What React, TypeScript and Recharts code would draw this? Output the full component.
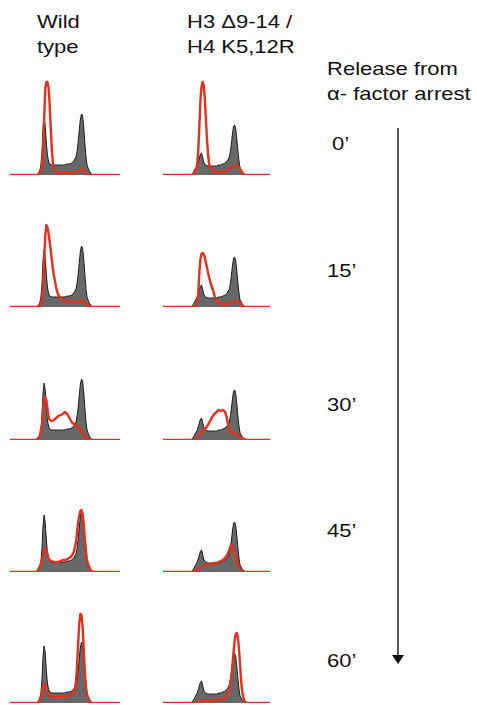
import { ComposedChart, Area, Line, XAxis, YAxis } from "recharts";

// DNA content histograms (channel, cell count)
type Pt = [number, number];

const wtAsync: Pt[] = [
  [24, 0], [25, 1], [26, 2], [27, 4], [28, 9], [29, 22], [30, 46], [31, 57], [32, 50], [33, 33], [34, 20],
  [35, 14], [36, 11], [38, 10], [40, 10], [42, 10], [44, 10], [46, 10], [48, 10], [50, 10], [52, 11],
  [54, 11], [56, 12], [58, 14], [60, 18], [61, 24], [62, 33], [63, 45], [64, 56], [65, 61], [66, 59],
  [67, 48], [68, 33], [69, 19], [70, 10], [72, 4], [74, 1], [76, 0],
];
const mutAsync: Pt[] = [
  [26, 0], [28, 2], [30, 6], [32, 10], [34, 17], [35, 21], [36, 22], [37, 18], [38, 13], [39, 11],
  [40, 10], [42, 9], [44, 9], [46, 9], [48, 9], [50, 9], [52, 10], [54, 10], [56, 11], [58, 12],
  [60, 14], [62, 18], [63, 24], [64, 32], [65, 42], [66, 49], [67, 50], [68, 46], [69, 36], [70, 24],
  [71, 14], [72, 7], [74, 3], [76, 1], [78, 0],
];

const wt0: Pt[] = [
  [25, 0], [27, 2], [29, 8], [30, 25], [31, 55], [32, 85], [33, 93], [34, 93], [35, 88], [36, 72],
  [37, 48], [38, 26], [39, 12], [40, 6], [41, 4], [42, 3], [46, 2], [50, 2], [54, 2], [58, 2],
  [60, 3], [62, 4], [64, 5], [66, 6], [67, 5], [68, 3], [70, 1], [72, 0],
];
const wt15: Pt[] = [
  [26, 0], [28, 3], [29, 8], [30, 20], [31, 45], [32, 70], [33, 82], [34, 80], [35, 74], [36, 66],
  [37, 57], [38, 47], [39, 38], [40, 31], [41, 25], [42, 19], [43, 15], [44, 12], [46, 9], [48, 7],
  [50, 6], [54, 5], [58, 5], [62, 5], [64, 6], [66, 6], [68, 4], [70, 2], [72, 0],
];
const wt30: Pt[] = [
  [24, 0], [27, 4], [29, 15], [30, 30], [31, 40], [32, 43], [33, 40], [34, 32], [35, 24], [36, 20],
  [38, 19], [40, 20], [42, 22], [44, 24], [46, 25], [48, 26], [50, 28], [51, 27], [52, 26], [54, 22],
  [56, 18], [58, 16], [60, 14], [62, 12], [64, 10], [66, 7], [68, 4], [70, 2], [72, 1], [74, 0],
];
const wt45: Pt[] = [
  [24, 0], [26, 3], [28, 8], [30, 16], [31, 22], [32, 24], [33, 22], [34, 18], [35, 14], [36, 12],
  [38, 11], [40, 10], [42, 10], [44, 10], [46, 11], [48, 12], [50, 12], [52, 13], [54, 14], [56, 16],
  [58, 20], [60, 30], [61, 40], [62, 50], [63, 57], [64, 61], [65, 62], [66, 58], [67, 48], [68, 34],
  [69, 22], [70, 12], [72, 5], [74, 1], [76, 0],
];
const wt60: Pt[] = [
  [25, 0], [27, 3], [29, 10], [30, 16], [31, 19], [32, 18], [33, 14], [34, 10], [35, 8], [36, 7],
  [40, 6], [44, 6], [48, 6], [52, 7], [56, 8], [58, 10], [59, 14], [60, 22], [61, 38], [62, 60],
  [63, 80], [64, 89], [65, 88], [66, 76], [67, 54], [68, 32], [69, 16], [70, 8], [72, 3], [74, 0],
];

const mut0: Pt[] = [
  [28, 0], [30, 3], [32, 10], [33, 25], [34, 50], [35, 75], [36, 88], [37, 93], [38, 90], [39, 78],
  [40, 58], [41, 38], [42, 22], [43, 12], [44, 7], [46, 5], [48, 3], [52, 3], [56, 3], [60, 4],
  [64, 7], [67, 9], [69, 10], [71, 8], [73, 4], [75, 1], [77, 0],
];
const mut15: Pt[] = [
  [30, 0], [32, 4], [33, 15], [34, 35], [35, 48], [36, 53], [37, 54], [38, 53], [39, 50], [40, 45],
  [41, 40], [42, 35], [43, 30], [44, 26], [45, 22], [46, 19], [47, 16], [48, 12], [49, 8], [50, 6],
  [52, 4], [56, 3], [60, 3], [64, 4], [66, 5], [68, 6], [70, 6], [72, 4], [74, 1], [76, 0],
];
const mut30: Pt[] = [
  [30, 0], [32, 2], [34, 5], [36, 8], [38, 10], [40, 12], [42, 15], [44, 19], [46, 23], [48, 26],
  [50, 28], [52, 30], [54, 29], [56, 30], [58, 28], [59, 25], [60, 20], [61, 14], [62, 10], [64, 8],
  [66, 7], [68, 6], [70, 5], [72, 3], [74, 2], [76, 1], [78, 0],
];
const mut45: Pt[] = [
  [30, 0], [32, 2], [34, 4], [36, 5], [38, 6], [40, 7], [42, 7], [44, 8], [46, 8], [48, 9],
  [50, 9], [52, 10], [54, 11], [56, 12], [58, 14], [60, 17], [62, 22], [63, 26], [64, 27], [65, 25],
  [66, 22], [67, 18], [68, 14], [70, 8], [72, 3], [74, 0],
];
const mut60: Pt[] = [
  [30, 0], [32, 1], [36, 2], [40, 2], [44, 2], [48, 3], [52, 3], [56, 4], [58, 5], [60, 8],
  [62, 14], [64, 26], [65, 38], [66, 52], [67, 63], [68, 69], [69, 70], [70, 66], [71, 54], [72, 38],
  [73, 22], [74, 12], [75, 6], [76, 2], [78, 0],
];

const wtSeries = [wt0, wt15, wt30, wt45, wt60];
const mutSeries = [mut0, mut15, mut30, mut45, mut60];
const timeLabels = ["0’", "15’", "30’", "45’", "60’"];
const channelRange = [0, 100];

const RED = "#e5301c";
const GRAY = "#686868";
const FONT = "'Liberation Sans', Arial, sans-serif";

const rowBaselines = [175, 307, 440, 572, 703];
const timeBaselines = [150, 277, 411, 537, 667];
const PLOT_H = 100;
const PAD = 2;

function buildRows(gray: Pt[], red: Pt[]) {
  const rows = new Map<number, { c: number; gray?: number; red?: number }>();
  const get = (c: number) => {
    if (!rows.has(c)) rows.set(c, { c });
    return rows.get(c)!;
  };
  gray.forEach(([c, v]) => (get(c).gray = v));
  red.forEach(([c, v]) => (get(c).red = v));
  channelRange.forEach((c) => (get(c).red = 0));
  return [...rows.values()].sort((a, b) => a.c - b.c);
}

function Histogram({ gray, red, left, width, baseline }: { gray: Pt[]; red: Pt[]; left: number; width: number; baseline: number }) {
  return (
    <div style={{ position: "absolute", left, top: baseline - PLOT_H - PAD }}>
      <ComposedChart width={width} height={PLOT_H + PAD * 2} data={buildRows(gray, red)} margin={{ top: PAD, right: 0, bottom: PAD, left: 0 }}>
        <XAxis dataKey="c" type="number" domain={channelRange} hide />
        <YAxis type="number" domain={[0, PLOT_H]} hide allowDataOverflow />
        <Area
          dataKey="gray"
          type="linear"
          fill={GRAY}
          fillOpacity={1}
          stroke="#1e1e1e"
          strokeWidth={1}
          connectNulls
          isAnimationActive={false}
        />
        <Line
          dataKey="red"
          type="linear"
          stroke={RED}
          strokeWidth={2.4}
          strokeLinejoin="round"
          dot={false}
          connectNulls
          isAnimationActive={false}
        />
      </ComposedChart>
    </div>
  );
}

function Label({ x, y, children }: { x: number; y: number; children: string }) {
  return (
    <text transform={`translate(${x},${y}) scale(1.19,1)`} fontSize={18.5} fontFamily={FONT} fill="#111">
      {children}
    </text>
  );
}

export default function App() {
  return (
    <div style={{ position: "absolute", left: 0, top: 0, width: 477, height: 705, overflow: "hidden", background: "#fff" }}>
      {rowBaselines.map((b, i) => (
        <Histogram key={"wt" + i} gray={wtAsync} red={wtSeries[i]} left={10} width={110} baseline={b} />
      ))}
      {rowBaselines.map((b, i) => (
        <Histogram key={"mut" + i} gray={mutAsync} red={mutSeries[i]} left={163} width={107} baseline={b} />
      ))}
      <svg width={477} height={705} style={{ position: "absolute", left: 0, top: 0, pointerEvents: "none" }}>
        <Label x={37} y={28}>Wild</Label>
        <Label x={37} y={53}>type</Label>
        <Label x={187} y={28}>H3 Δ9-14 /</Label>
        <Label x={187} y={53}>H4 K5,12R</Label>
        <Label x={327} y={75}>Release from</Label>
        <Label x={327} y={100}>α- factor arrest</Label>
        {timeLabels.map((t, i) => (
          <Label key={t} x={i === 0 ? 332 : 327} y={timeBaselines[i]}>{t}</Label>
        ))}
        <line x1={398} y1={128} x2={398} y2={656} stroke="#222" strokeWidth={1.5} />
        <polygon points="392,655 404,655 398,664" fill="#111" />
      </svg>
    </div>
  );
}
